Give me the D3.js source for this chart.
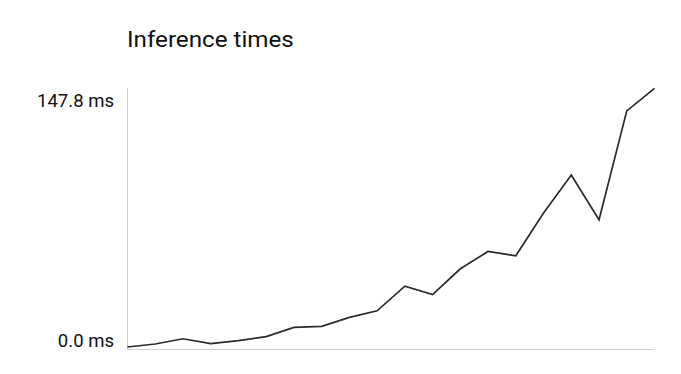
<!DOCTYPE html>
<html>
<head>
<meta charset="utf-8">
<script src="https://cdn.jsdelivr.net/npm/d3@7"></script>
<style>
	body { margin: 0; background: #fff; font-family: Roboto, sans-serif; }
	.title { font-size: 22px; fill: #111; }
	.label { font-size: 18px; fill: #111; }
	.axisLine { stroke: #cfcfcf; stroke-width: 1; }
	.line { fill: none; stroke: #2b2b2b; stroke-width: 1.7; }
</style>
</head>
<body>
<div class="chart"></div>
<script>
// inference time per run, in ms
var runs = d3.range(1, 21);
var times = [0.0, 1.7, 4.7, 1.9, 3.6, 5.9, 11.2, 11.8, 16.9, 20.7,
	34.8, 29.9, 44.7, 54.6, 52.1, 76.5, 98.3, 72.7, 134.9, 147.8];
var yTicks = [0.0, 147.8];

var W = 681, H = 374;
var margin = { top: 88, right: 26, bottom: 24, left: 127 };
var width = W - margin.left - margin.right,
	height = H - margin.top - margin.bottom;

var svg = d3.select(".chart").append("svg")
	.attr("width", W)
	.attr("height", H);

// text in the reference is a bit wider than plain Roboto
svg.append("text")
	.attr("class", "title")
	.attr("transform", "translate(127,47) scale(1.1,1)")
	.text("Inference times");

var g = svg.append("g")
	.attr("transform", "translate(" + margin.left + "," + margin.top + ")");

var x = d3.scaleLinear().domain([1, 20]).range([0.5, width - 0.5]);
var y = d3.scaleLinear().domain(d3.extent(yTicks)).range([height - 3, 0.3]);

// axes are plain lines, no ticks
g.append("line")
	.attr("class", "axisLine")
	.attr("x1", 0.5).attr("x2", 0.5)
	.attr("y1", 0).attr("y2", height);

g.append("line")
	.attr("class", "axisLine")
	.attr("x1", 0).attr("x2", width)
	.attr("y1", height - 0.5).attr("y2", height - 0.5);

// min / max labels
g.selectAll(".label")
	.data(yTicks)
	.enter().append("text")
	.attr("class", "label")
	.attr("transform", function (d, i) {
		var ty = i === 0 ? y(d) - 0.5 : y(d) + 18.5;
		return "translate(-13," + ty + ") scale(1.03,1)";
	})
	.style("text-anchor", "end")
	.text(function (d) { return d.toFixed(1) + " ms"; });

var line = d3.line()
	.x(function (d, i) { return x(runs[i]); })
	.y(function (d) { return y(d); });

g.append("path")
	.datum(times)
	.attr("class", "line")
	.attr("d", line);
</script>
</body>
</html>
